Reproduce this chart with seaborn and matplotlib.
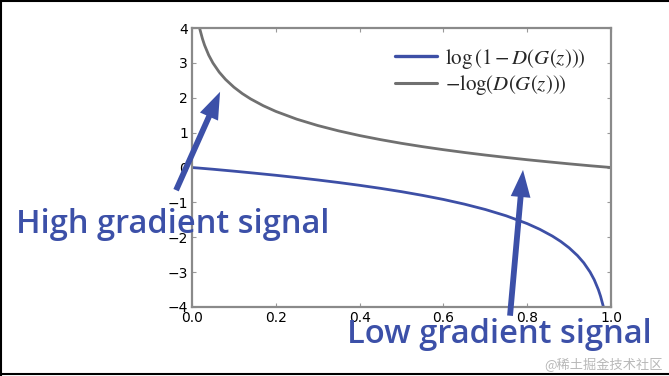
import matplotlib
matplotlib.use("Agg")
import matplotlib.pyplot as plt
import seaborn as sns
import pandas as pd
from matplotlib.lines import Line2D

# ---- data ----
x_blue = [0.0, 0.05, 0.1, 0.15, 0.2, 0.25, 0.3, 0.35, 0.4, 0.45, 0.5, 0.55, 0.6,
          0.65, 0.7, 0.75, 0.8, 0.83, 0.86, 0.88, 0.9, 0.92, 0.935, 0.95, 0.96,
          0.97, 0.975, 0.982]
y_blue = [0.0, -0.05, -0.105, -0.163, -0.223, -0.288, -0.357, -0.431, -0.511,
          -0.598, -0.693, -0.799, -0.916, -1.05, -1.204, -1.386, -1.609, -1.772,
          -1.966, -2.12, -2.303, -2.526, -2.733, -2.996, -3.219, -3.507, -3.689,
          -4.0]
x_gray = [0.018, 0.025, 0.03, 0.04, 0.05, 0.065, 0.08, 0.1, 0.12, 0.14, 0.17,
          0.2, 0.25, 0.3, 0.35, 0.4, 0.45, 0.5, 0.55, 0.6, 0.65, 0.7, 0.75, 0.8,
          0.85, 0.9, 0.95, 1.0]
y_gray = [4.0, 3.689, 3.507, 3.219, 2.996, 2.733, 2.526, 2.303, 2.12, 1.966,
          1.772, 1.609, 1.386, 1.204, 1.05, 0.916, 0.799, 0.693, 0.598, 0.511,
          0.431, 0.357, 0.288, 0.223, 0.163, 0.105, 0.05, 0.0]
labels = [r'$\log\left(1-D\left(G(z)\right)\right)$',
          r'$-\log(D\left(G(z)\right))$']
x_ticks = [0.0, 0.2, 0.4, 0.6, 0.8, 1.0]
y_ticks = [-4, -3, -2, -1, 0, 1, 2, 3, 4]
annot_texts = ["High gradient signal", "Low gradient signal"]
watermark = "@稀土掘金技术社区"

BLUE = "#3d4fa6"
GRAY = "#707070"
ARROW = "#3c50a8"

sns.set_style("white")
plt.rcParams["font.family"] = ["DejaVu Sans"]
plt.rcParams["mathtext.fontset"] = "stix"

W, H = 669, 376
fig = plt.figure(figsize=(W / 100, H / 100), dpi=100)
ax = fig.add_axes([192 / W, 1 - 307 / H, (611 - 192) / W, (307 - 28) / H])

df_b = pd.DataFrame({"x": x_blue, "y": y_blue})
df_g = pd.DataFrame({"x": x_gray, "y": y_gray})
sns.lineplot(data=df_b, x="x", y="y", ax=ax, color=BLUE, lw=2.0,
             sort=False, estimator=None)
sns.lineplot(data=df_g, x="x", y="y", ax=ax, color=GRAY, lw=2.0,
             sort=False, estimator=None)

ax.set_xlim(0, 1)
ax.set_ylim(-4, 4)
ax.set_xticks(x_ticks)
ax.set_yticks(y_ticks)
ax.set_xticklabels([f"{v:.1f}" for v in x_ticks])
ax.set_yticklabels([str(v).replace("-", "\u2212") for v in y_ticks])
ax.set_xlabel("")
ax.set_ylabel("")
for s in ax.spines.values():
    s.set_color("#8a8a8a")
    s.set_linewidth(1.6)
ax.tick_params(direction="in", length=3, width=0.8, color="#999999",
               labelsize=10, pad=3, top=True, right=True, bottom=True, left=True,
               labelcolor="black")

handles = [Line2D([], [], color=BLUE, lw=2.4), Line2D([], [], color=GRAY, lw=2.2)]
leg = ax.legend(handles, labels, loc="upper right", frameon=False, fontsize=15,
                handlelength=2.0, borderaxespad=0.5, labelspacing=0.1,
                handletextpad=0.4, bbox_to_anchor=(0.985, 1.0))

# arrows (data coordinates)
aprops = dict(arrowstyle="simple,head_length=1.3,head_width=0.95,tail_width=0.28",
              mutation_scale=15, color=ARROW, lw=0, shrinkA=0, shrinkB=0)
ax.annotate("", xy=(0.067, 2.17), xytext=(-0.038, -0.65), xycoords="data",
            textcoords="data", arrowprops=aprops, annotation_clip=False)
ax.annotate("", xy=(0.79, -0.07), xytext=(0.759, -4.25), xycoords="data",
            textcoords="data", arrowprops=aprops, annotation_clip=False)

fig.text(16 / W, 1 - 233 / H, annot_texts[0], color=ARROW, fontsize=23.5,
         family="Open Sans", weight="semibold", ha="left", va="baseline")
fig.text(347 / W, 1 - 343 / H, annot_texts[1], color=ARROW, fontsize=23.5,
         family="Open Sans", weight="semibold", ha="left", va="baseline")
fig.text(663 / W, 1 - 369 / H, watermark, color="#b8b8b8", fontsize=9.5,
         family=["Noto Sans CJK SC", "DejaVu Sans"], ha="right", va="baseline")

# frame lines on top, left and bottom of the image
for (xs, ys) in [([0, 1], [0.998, 0.998]), ([0.0015, 0.0015], [0, 1]),
                 ([0, 1], [0.006, 0.006])]:
    fig.add_artist(Line2D(xs, ys, transform=fig.transFigure, color="black", lw=1.5))

fig.savefig("out.png", dpi=100)
